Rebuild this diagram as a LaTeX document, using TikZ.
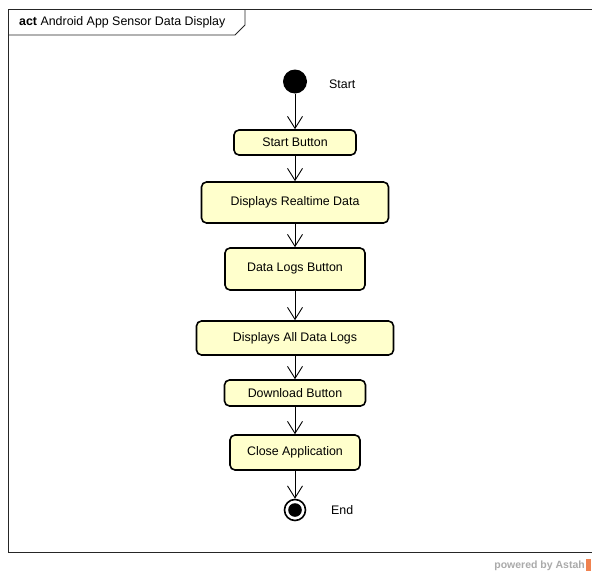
\documentclass[tikz,border=0pt]{standalone}
\usepackage{fontspec}
\setmainfont{Liberation Sans}
\usetikzlibrary{arrows.meta}
\definecolor{actfill}{RGB}{255,255,204}
\definecolor{astahgray}{RGB}{170,170,170}
\definecolor{astahorange}{RGB}{240,130,80}
\tikzset{
  action/.style={draw=black, line width=1.6pt, fill=actfill, rounded corners=5pt,
    inner sep=0pt, font=\fontsize{12.4}{14}\selectfont},
  flow/.style={draw=black, line width=0.9pt, -{Straight Barb[length=12pt,width=15pt,line width=0.9pt]}},
  lbl/.style={font=\fontsize{12.4}{14}\selectfont, anchor=west, inner sep=0pt},
  framestyle/.style={draw=black!85, line width=0.9pt}
}
\begin{document}
\begin{tikzpicture}[x=1pt,y=-1pt]
\useasboundingbox (0,0) rectangle (592,573);
\fill[white] (0,0) rectangle (592,573);
% frame
\draw[framestyle] (592,9) -- (8,9) -- (8,552) -- (592,552);
\draw[framestyle] (8,35) -- (235,35) -- (245,25) -- (245,9);
\node[anchor=west, inner sep=0pt, font=\fontsize{12.4}{14}\selectfont] (title) at (19,22.5) {\textbf{act} Android App Sensor Data Display};
% nodes
\node[circle, fill=black, minimum size=24pt, inner sep=0pt] (start) at (295,81.5) {};
\node[lbl] (startlbl) at (329,84) {Start};
\node[action, minimum width=122pt, minimum height=25pt] (sb) at (295,142.5) {Start Button};
\node[action, minimum width=187pt, minimum height=41pt] (rt) at (295,202.5) {Displays Realtime Data};
\node[action, minimum width=140pt, minimum height=42pt] (dl) at (295,269) {Data Logs Button};
\node[action, minimum width=197pt, minimum height=34pt] (all) at (295,338) {Displays All Data Logs};
\node[action, minimum width=141pt, minimum height=26pt] (dw) at (295,393) {Download Button};
\node[action, minimum width=130pt, minimum height=35pt] (close) at (295,452.5) {Close Application};
\node[circle, draw=black, fill=white, line width=1.6pt, minimum size=21pt, inner sep=0pt] (end) at (295,510) {};
\fill[black] (end.center) circle (6.8);
\node[lbl] (endlbl) at (331,510) {End};
% flows
\draw[flow] (start) -- (sb);
\draw[flow] (sb) -- (rt);
\draw[flow] (rt) -- (dl);
\draw[flow] (dl) -- (all);
\draw[flow] (all) -- (dw);
\draw[flow] (dw) -- (close);
\draw[flow] (close) -- (end);
% footer
\node[anchor=east, inner sep=0pt, text=astahgray, font=\fontsize{10.5}{12}\bfseries] (powered) at (585,566) {powered by Astah};
\fill[astahorange] (585.5,559) rectangle (591,571);
\end{tikzpicture}
\end{document}
